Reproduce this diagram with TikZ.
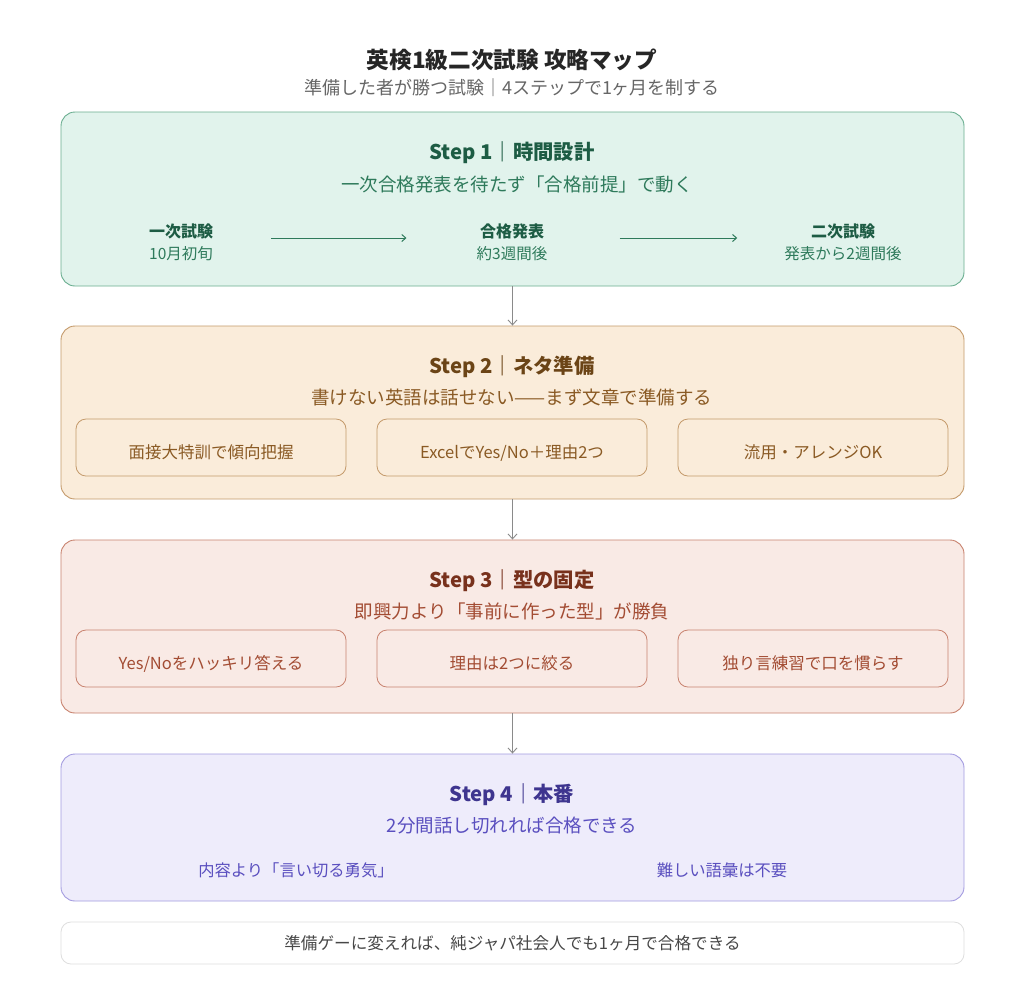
\documentclass[tikz,border=0pt]{standalone}
\usepackage{fontspec}
\setmainfont{Noto Sans CJK JP}
\usetikzlibrary{arrows.meta}

\definecolor{grnfill}{HTML}{E1F3EC}
\definecolor{grnline}{HTML}{6AAE90}
\definecolor{grndark}{HTML}{1D5C44}
\definecolor{grntext}{HTML}{2E7A5B}
\definecolor{brnfill}{HTML}{FAECDA}
\definecolor{brnline}{HTML}{C49A6B}
\definecolor{brndark}{HTML}{6B4416}
\definecolor{brntext}{HTML}{8A5A24}
\definecolor{redfill}{HTML}{F9EAE5}
\definecolor{redline}{HTML}{C8826E}
\definecolor{reddark}{HTML}{78311C}
\definecolor{redtext}{HTML}{A34C33}
\definecolor{purfill}{HTML}{EEECFB}
\definecolor{purline}{HTML}{A49CE0}
\definecolor{purdark}{HTML}{3E358F}
\definecolor{purtext}{HTML}{5A4FBF}
\definecolor{flowgray}{HTML}{8A8A8A}

\newcommand{\fs}[1]{\fontsize{#1}{#1}\selectfont}

\begin{document}
\begin{tikzpicture}[x=1pt,y=-1pt,
  stepbox/.style={draw, rounded corners=14pt, line width=0.9pt, minimum width=903pt, inner sep=0pt},
  itembox/.style={draw, rounded corners=10pt, line width=0.8pt, minimum width=270pt, minimum height=57pt, inner sep=0pt, text height=22pt, text depth=0pt, font=\fs{16.5}},
  steptitle/.style={font=\bfseries\fs{20.3}},
  stepsub/.style={font=\fs{18.5}},
  stage/.style={align=center, inner sep=0pt, font=\fs{15.5}},
  flow/.style={draw=flowgray, line width=0.9pt, -{Straight Barb[length=5pt,width=9pt]}},
  tl/.style={draw=grntext, line width=1pt, -{Straight Barb[length=4pt,width=7pt]}}]
\useasboundingbox[fill=white] (0,0) rectangle (1024,994);

% header
\node[font=\bfseries\fs{22.6}, text=black!85] (title) at (512,60) {英検1級二次試験 攻略マップ};
\node[font=\fs{18}, text=black!60] (subtitle) at (512,88) {準備した者が勝つ試験｜4ステップで1ヶ月を制する};

% step 1
\node[stepbox, fill=grnfill, draw=grnline, minimum height=174pt] (s1) at (512.5,199) {};
\node[steptitle, text=grndark] (s1t) at (512,153) {Step 1｜時間設計};
\node[stepsub, text=grntext] (s1s) at (517,184) {一次合格発表を待たず「合格前提」で動く};
\node[stage] (t1) at (181,242.5) {\textcolor{grndark}{\bfseries\fs{16}一次試験}\\[7pt]\textcolor{grntext}{10月初旬}};
\node[stage] (t2) at (512,242.5) {\textcolor{grndark}{\bfseries\fs{16}合格発表}\\[7pt]\textcolor{grntext}{約3週間後}};
\node[stage] (t3) at (843,242.5) {\textcolor{grndark}{\bfseries\fs{16}二次試験}\\[7pt]\textcolor{grntext}{発表から2週間後}};
\draw[tl, shorten <=58pt, shorten >=70pt] ([yshift=4.5pt]t1.east) -- ([yshift=4.5pt]t2.west);
\draw[tl, shorten <=72pt, shorten >=47pt] ([yshift=4.5pt]t2.east) -- ([yshift=4.5pt]t3.west);

% step 2
\node[stepbox, fill=brnfill, draw=brnline, minimum height=173pt] (s2) at (512.5,412.5) {};
\node[steptitle, text=brndark] (s2t) at (512,367) {Step 2｜ネタ準備};
\node[stepsub, text=brntext] (s2s) at (511.5,397) {書けない英語は話せない——まず文章で準備する};
\node[itembox, draw=brnline, text=brntext] (n1) at (211,447.5) {面接大特訓で傾向把握};
\node[itembox, draw=brnline, text=brntext] (n2) at (512,447.5) {ExcelでYes/No＋理由2つ};
\node[itembox, draw=brnline, text=brntext] (n3) at (813,447.5) {流用・アレンジOK};

% step 3
\node[stepbox, fill=redfill, draw=redline, minimum height=173pt] (s3) at (512.5,626.5) {};
\node[steptitle, text=reddark] (s3t) at (512,581) {Step 3｜型の固定};
\node[stepsub, text=redtext] (s3s) at (512,611) {即興力より「事前に作った型」が勝負};
\node[itembox, draw=redline, text=redtext] (k1) at (211,658.5) {Yes/Noをハッキリ答える};
\node[itembox, draw=redline, text=redtext] (k2) at (512,658.5) {理由は2つに絞る};
\node[itembox, draw=redline, text=redtext] (k3) at (813,658.5) {独り言練習で口を慣らす};

% step 4
\node[stepbox, fill=purfill, draw=purline, minimum height=147pt] (s4) at (512.5,827.5) {};
\node[steptitle, text=purdark] (s4t) at (512,795) {Step 4｜本番};
\node[stepsub, text=purtext] (s4s) at (512,825) {2分間話し切れれば合格できる};
\node[font=\fs{16.3}, text=purtext] (h1) at (296,870) {内容より「言い切る勇気」};
\node[font=\fs{16.3}, text=purtext] (h2) at (722,870) {難しい語彙は不要};

% footer
\node[draw=black!13, rounded corners=10pt, line width=0.8pt, fill=white, minimum width=903pt, minimum height=42pt, font=\fs{16.6}, text=black!72] (foot) at (512.5,943) {準備ゲーに変えれば、純ジャパ社会人でも1ヶ月で合格できる};

% flow
\draw[flow] (s1.south) -- (s2.north);
\draw[flow] (s2.south) -- (s3.north);
\draw[flow] (s3.south) -- (s4.north);
\end{tikzpicture}
\end{document}
